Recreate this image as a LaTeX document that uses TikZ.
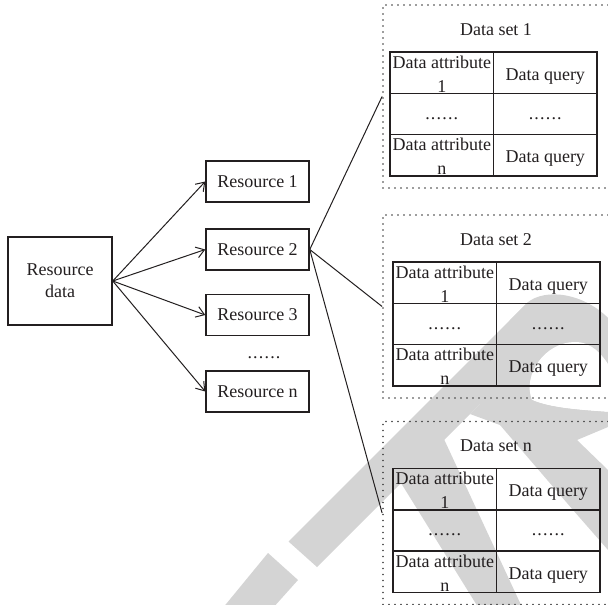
\documentclass[tikz,border=0pt]{standalone}
\usepackage{fontspec}
\setmainfont{Liberation Serif}
\usetikzlibrary{arrows.meta}
\definecolor{ink}{RGB}{35,31,32}
\definecolor{wm}{RGB}{212,212,212}
\definecolor{dotc}{RGB}{60,60,60}
\tikzset{
  resbox/.style={draw=ink, line width=1.5pt, minimum width=103pt, minimum height=41pt,
    inner sep=0pt, font=\fontsize{18}{22}\selectfont, text=ink},
  setbox/.style={draw=dotc, line width=1.8pt, dash pattern=on 0pt off 6pt, line cap=round,
    minimum width=240pt, minimum height=183pt, inner sep=0pt},
  cell/.style={draw=ink, line width=1.6pt, minimum width=103.5pt, minimum height=41.33pt, inner sep=0pt},
  lbl/.style={font=\fontsize{18}{22}\selectfont, text=ink, inner sep=0pt, anchor=base},
  arr/.style={draw=ink, line width=1pt, -{Straight Barb[length=8pt,width=11pt]}},
  link/.style={draw=ink, line width=1pt},
}
% six spaced dots used as an ellipsis
\newcommand\sixdots{.\kern1.2pt.\kern1.2pt.\kern1.2pt.\kern1.2pt.\kern1.2pt.}
% one data set: name, left edge of the table, top of the dotted frame, title
\newcommand\DataSetBlock[4]{%
  \node[setbox] (#1) at (503,{#3+91.5}) {};
  \node[lbl] (#1t) at (496,{#3+30}) {#4};
  \foreach \r in {0,1,2}{
    \node[cell] (#1a\r) at ({#2+51.75},{#3+47+20.67+41.33*\r}) {};
    \node[cell] (#1q\r) at ({#2+155.25},{#3+47+20.67+41.33*\r}) {};
  }
  \node[lbl] (#1a0x) at ({#2+51.75},{#3+47+16}) {Data attribute};
  \node[lbl] (#1a0y) at ({#2+51.75},{#3+47+40}) {1};
  \node[lbl] (#1q0x) at ({#2+155.25},{#3+47+28}) {Data query};
  \node[lbl] (#1a1x) at ({#2+51.75},{#3+47+41.33+26}) {\sixdots};
  \node[lbl] (#1q1x) at ({#2+155.25},{#3+47+41.33+26}) {\sixdots};
  \node[lbl] (#1a2x) at ({#2+51.75},{#3+47+82.67+16}) {Data attribute};
  \node[lbl] (#1a2y) at ({#2+51.75},{#3+47+82.67+40}) {n};
  \node[lbl] (#1q2x) at ({#2+155.25},{#3+47+82.67+28}) {Data query};
}

\begin{document}
\begin{tikzpicture}[x=1pt,y=-1pt]
\useasboundingbox (0,0) rectangle (608,605);
\clip (0,0) rectangle (608,605);
\fill[white] (0,0) rectangle (608,605);

% light grey watermark lettering in the background
\fill[wm] (222,609) -- (268,553) -- (298,580) -- (272,609) -- cycle;
\fill[wm] (288.5,541.5) -- (527.5,302.5) -- (554.5,329.5) -- (317,567) -- cycle;
\fill[wm] (510,320) -- (527.5,302.5) .. controls (545,288) and (585,292) .. (612,322)
  -- (650,360) -- (650,420) -- (608,420) -- (480,404) -- cycle;
\fill[white] (532,400) .. controls (522,375) and (545,342) .. (575,342)
  .. controls (592,342) and (602,355) .. (608,364) -- (660,400) -- (660,412)
  -- (608,412) .. controls (580,410) and (550,408) .. (532,400) -- cycle;
\fill[wm] (480,404) -- (532,400) .. controls (550,408) and (580,410) .. (608,412)
  -- (660,414) -- (660,425) -- (608,427) -- (577,440) -- (608,470) -- (660,522)
  -- (660,610) -- (608,550) -- (573,510) -- (500,425) -- (470,414) -- cycle;
\fill[wm] (443,437) -- (528,620) -- (486,620) -- (401,483) -- cycle;

% source and resources
\node[resbox, minimum width=104pt, minimum height=88pt, align=center] (rd) at (60,281) {Resource\\data};
\node[resbox] (r1) at (257.5,181.5) {Resource 1};
\node[resbox] (r2) at (257.5,249.5) {Resource 2};
\node[resbox] (r3) at (257.5,315) {Resource 3};
\node[lbl] (rdots) at (264,358) {\sixdots};
\node[resbox] (rn) at (257.5,391.5) {Resource n};

\foreach \t in {r1,r2,r3,rn} \draw[arr] (rd.east) -- (\t.west);

% data sets
\DataSetBlock{dsa}{390}{5}{Data set 1}
\DataSetBlock{dsb}{393}{215}{Data set 2}
\DataSetBlock{dsc}{393}{421.5}{Data set n}

\foreach \t in {dsa,dsb,dsc} \draw[link] (r2.east) -- (\t.west);
\end{tikzpicture}
\end{document}
